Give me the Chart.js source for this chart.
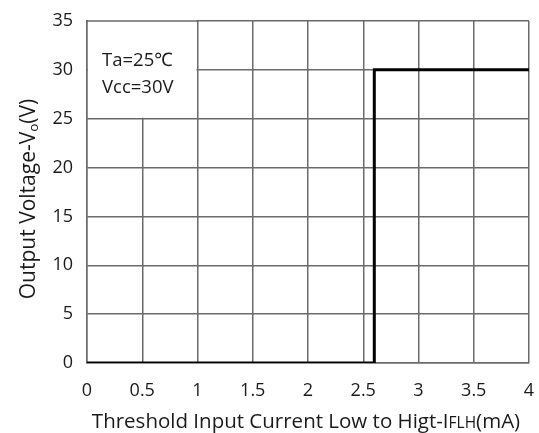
<!DOCTYPE html>
<html>
<head>
<meta charset="utf-8">
<script src="https://cdn.jsdelivr.net/npm/chart.js@4.4.1/dist/chart.umd.min.js"></script>
<style>
  html, body { margin: 0; padding: 0; background: #fff; }
  #wrap { width: 539px; height: 433px; }
</style>
</head>
<body>
<div id="wrap"><canvas id="chart" width="539" height="433"></canvas></div>
<script>
// Step response data (mA -> V)
const currentMA = [0, 2.6, 2.6, 4];
const outputV = [0, 0, 30, 30];
const xTicks = [0, 0.5, 1, 1.5, 2, 2.5, 3, 3.5, 4];
const yTicks = [0, 5, 10, 15, 20, 25, 30, 35];
const noteLines = ['Ta=25\u2103', 'Vcc=30V'];

const FONT = '"Open Sans", "Noto Sans", sans-serif';
const gridColor = '#6a6a6a';
const textColor = '#1a1a1a';

// Blank box for the conditions note (0..1 mA, 25..35 V) plus axis titles
const notePlugin = {
    id: 'note',
    beforeDatasetsDraw(chart) {
        const { ctx, scales: { x, y } } = chart;
        const x0 = x.getPixelForValue(0), x1 = x.getPixelForValue(1);
        const y0 = y.getPixelForValue(35), y1 = y.getPixelForValue(25);
        ctx.save();
        ctx.fillStyle = '#fff';
        ctx.fillRect(x0 + 1, y0 - 2, x1 - x0 - 2, y1 - y0 + 1);
        // redraw the top border over the cleared strip
        ctx.strokeStyle = gridColor;
        ctx.lineWidth = 1.5;
        ctx.beginPath();
        ctx.moveTo(x0, y0);
        ctx.lineTo(x1 + 1, y0);
        ctx.stroke();
        ctx.fillStyle = textColor;
        ctx.font = '18.5px ' + FONT;
        ctx.textAlign = 'left';
        ctx.textBaseline = 'alphabetic';
        ctx.fillText(noteLines[0], x0 + 15, 66);
        ctx.fillText(noteLines[1], x0 + 15, 93);
        ctx.restore();
    },
    afterDraw(chart) {
        const { ctx } = chart;
        ctx.save();
        ctx.fillStyle = textColor;
        ctx.textBaseline = 'alphabetic';
        // x title with small-size subscript letters
        const parts = [['Threshold Input Current Low to Higt-I', 20.5], ['FLH', 15.5], ['(mA)', 20.5]];
        let total = 0;
        parts.forEach(p => { ctx.font = p[1] + 'px ' + FONT; total += ctx.measureText(p[0]).width; });
        let cx = 306 - total / 2;
        parts.forEach(p => {
            ctx.font = p[1] + 'px ' + FONT;
            ctx.fillText(p[0], cx, 428);
            cx += ctx.measureText(p[0]).width;
        });
        // y title rotated
        ctx.translate(35, 199);
        ctx.rotate(-Math.PI / 2);
        const yparts = [['Output Voltage-V', 21, 0], ['o', 13.5, 3], ['(V)', 21, 0]];
        let ytotal = 0;
        yparts.forEach(p => { ctx.font = p[1] + 'px ' + FONT; ytotal += ctx.measureText(p[0]).width; });
        let yx = -ytotal / 2;
        yparts.forEach(p => {
            ctx.font = p[1] + 'px ' + FONT;
            ctx.fillText(p[0], yx, p[2]);
            yx += ctx.measureText(p[0]).width;
        });
        ctx.restore();
    }
};

new Chart(document.getElementById('chart'), {
    type: 'line',
    data: {
        datasets: [{
            data: currentMA.map((v, i) => ({ x: v, y: outputV[i] })),
            borderColor: '#000',
            borderWidth: 3,
            pointRadius: 0,
            fill: false,
            tension: 0
        }]
    },
    options: {
        responsive: false,
        animation: false,
        layout: { padding: { top: 21, right: 10, left: 0, bottom: 0 } },
        plugins: { legend: { display: false }, tooltip: { enabled: false } },
        scales: {
            x: {
                type: 'linear',
                min: 0, max: 4,
                afterBuildTicks: s => { s.ticks = xTicks.map(v => ({ value: v })); },
                afterFit: s => { s.height = 70; s.paddingLeft = 0; s.paddingRight = 0; },
                ticks: { color: textColor, font: { size: 18, family: FONT }, padding: 17, maxRotation: 0,
                         callback: v => String(v) },
                grid: { color: gridColor, lineWidth: 1.5, drawTicks: false },
                border: { color: gridColor, width: 1.5 }
            },
            y: {
                min: 0, max: 35,
                afterBuildTicks: s => { s.ticks = yTicks.map(v => ({ value: v })); },
                afterFit: s => { s.width = 87; s.paddingTop = 0; s.paddingBottom = 0; },
                ticks: { color: textColor, font: { size: 18, family: FONT }, padding: 14,
                         callback: v => String(v) },
                grid: { color: gridColor, lineWidth: 1.5, drawTicks: false },
                border: { color: gridColor, width: 1.5 }
            }
        }
    },
    plugins: [notePlugin]
});
</script>
</body>
</html>
